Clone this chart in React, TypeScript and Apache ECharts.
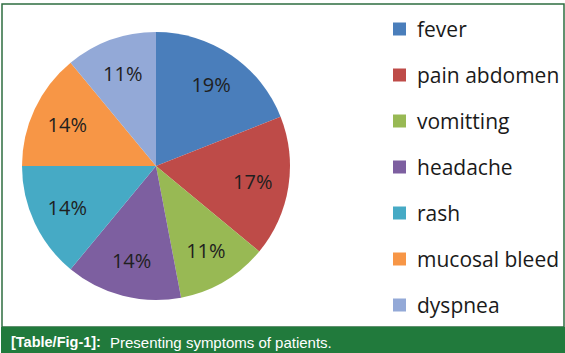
import React, { useEffect, useRef } from "react";
import * as echarts from "echarts";

const categories = ["fever", "pain abdomen", "vomitting", "headache", "rash", "mucosal bleed", "dyspnea"];
const values = [19, 17, 11, 14, 14, 14, 11];
const colors = ["#4A7EBB", "#BE4B48", "#98B954", "#7D5FA0", "#46AAC5", "#F79646", "#93A9D7"];
const captionBold = "[Table/Fig-1]:";
const captionText = "Presenting symptoms of patients.";

export default function App() {
  const ref = useRef<HTMLDivElement>(null);
  useEffect(() => {
    if (!ref.current) return;
    const chart = echarts.init(ref.current, undefined, { renderer: "svg" });
    const data = categories.map((name, i) => ({ name, value: values[i], itemStyle: { color: colors[i] } }));
    chart.setOption({
      animation: false,
      backgroundColor: "#ffffff",
      legend: {
        orient: "vertical",
        left: 388,
        top: 11,
        itemWidth: 13,
        itemHeight: 13,
        itemGap: 20,
        icon: "rect",
        data: categories,
        textStyle: {
          fontFamily: "Open Sans",
          fontSize: 21,
          lineHeight: 26,
          color: "#1a1a1a",
          padding: [0, 0, 0, 6],
        },
      },
      series: [
        {
          type: "pie",
          center: [156, 166],
          radius: [0, 134],
          startAngle: 90,
          clockwise: true,
          silent: true,
          label: { show: false },
          labelLine: { show: false },
          itemStyle: { borderWidth: 0 },
          data,
        },
        {
          type: "pie",
          center: [156, 166],
          radius: [56, 134],
          startAngle: 90,
          clockwise: true,
          silent: true,
          itemStyle: { color: "transparent", borderWidth: 0 },
          label: {
            show: true,
            position: "inside",
            formatter: "{c}%",
            fontFamily: "Open Sans",
            fontSize: 20,
            color: "#1f1f1f",
          },
          labelLine: { show: false },
          data: categories.map((name, i) => ({ name, value: values[i] })),
        },
      ],
      graphic: [
        {
          type: "rect",
          shape: { x: 2, y: 4, width: 562, height: 323 },
          style: { fill: "none", stroke: "#2E6E40", lineWidth: 1.5 },
          silent: true,
        },
        {
          type: "rect",
          shape: { x: 1, y: 327, width: 564, height: 26 },
          style: { fill: "#217A3C" },
          silent: true,
        },
        {
          type: "text",
          x: 11,
          y: 342,
          style: {
            text: captionBold,
            fill: "#ffffff",
            font: "bold 14.5px 'Liberation Sans', Arial, sans-serif",
            verticalAlign: "middle",
          },
          silent: true,
        },
        {
          type: "text",
          x: 110,
          y: 342,
          style: {
            text: captionText,
            fill: "#ffffff",
            font: "15px 'Liberation Sans', Arial, sans-serif",
            verticalAlign: "middle",
          },
          silent: true,
        },
      ],
    });
    return () => chart.dispose();
  }, []);
  return (
    <div
      ref={ref}
      style={{ position: "absolute", left: 0, top: 0, width: 565, height: 353 }}
    />
  );
}
